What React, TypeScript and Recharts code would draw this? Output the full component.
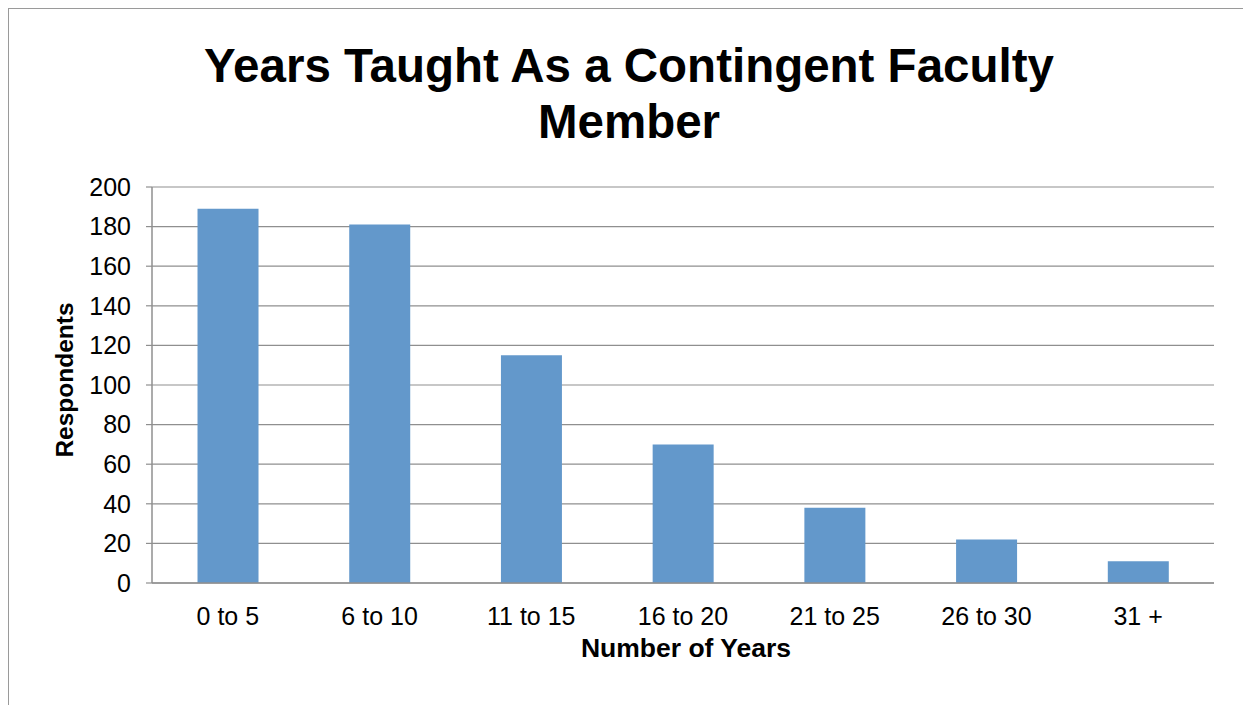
import React from "react";
import { BarChart, Bar, XAxis, YAxis, CartesianGrid, Label } from "recharts";

const categories = ["0 to 5", "6 to 10", "11 to 15", "16 to 20", "21 to 25", "26 to 30", "31 +"];
const respondents = [189, 181, 115, 70, 38, 22, 11];
const yTicks = [0, 20, 40, 60, 80, 100, 120, 140, 160, 180, 200];
const titleLines = ["Years Taught As a Contingent Faculty", "Member"];
const xTitle = "Number of Years";
const yTitle = "Respondents";

const data = categories.map((c, i) => ({ name: c, value: respondents[i] }));

const FONT = '"Liberation Sans", Arial, Helvetica, sans-serif';
const GRID = "#8f8f8f";

export default function App() {
  return (
    <div
      style={{
        position: "fixed",
        left: 8,
        top: 8,
        width: 1235,
        height: 697,
        overflow: "hidden",
        fontFamily: FONT,
        background: "#fff",
      }}
    >
      <div
        style={{
          position: "absolute",
          left: 0,
          top: 0,
          width: 1300,
          height: 760,
          borderTop: "1.5px solid #9a9a9a",
          borderLeft: "1.5px solid #9a9a9a",
          boxSizing: "border-box",
        }}
      />
      <div
        style={{
          position: "absolute",
          left: 0,
          top: 29.5,
          width: 1242,
          textAlign: "center",
          fontSize: 47.5,
          fontWeight: "bold",
          lineHeight: "56px",
          color: "#000",
        }}
      >
        {titleLines.map((l) => (
          <div key={l}>{l}</div>
        ))}
      </div>
      <BarChart
        width={1235}
        height={697}
        data={data}
        margin={{ top: 179, right: 29, bottom: 0, left: 0 }}
        barCategoryGap="30%"
        style={{ position: "absolute", left: 0, top: 0 }}
      >
        <CartesianGrid vertical={false} stroke={GRID} strokeWidth={1.2} />
        <XAxis
          dataKey="name"
          height={122}
          tickLine={false}
          tickSize={0}
          tickMargin={24}
          axisLine={{ stroke: GRID, strokeWidth: 1.5 }}
          tick={{ fontSize: 25, fill: "#000", fontFamily: FONT }}
          interval={0}
        >
          <Label
            content={({ viewBox }: any) => (
              <text
                x={viewBox.x + viewBox.width / 2 + 3}
                y={viewBox.y + 74}
                textAnchor="middle"
                fontSize={26.5}
                fontWeight="bold"
                fontFamily={FONT}
                fill="#000"
              >
                {xTitle}
              </text>
            )}
          />
        </XAxis>
        <YAxis
          width={144}
          domain={[0, 200]}
          ticks={yTicks}
          interval={0}
          tickSize={6}
          tickMargin={15}
          tickLine={{ stroke: GRID, strokeWidth: 1.2 }}
          axisLine={{ stroke: GRID, strokeWidth: 1.5 }}
          tick={{ fontSize: 25, fill: "#000", fontFamily: FONT }}
        >
          <Label
            content={({ viewBox }: any) => (
              <text
                x={56}
                y={viewBox.y + viewBox.height / 2 - 5}
                transform={`rotate(-90, 56, ${viewBox.y + viewBox.height / 2 - 5})`}
                textAnchor="middle"
                dominantBaseline="central"
                fontSize={24.5}
                fontWeight="bold"
                fontFamily={FONT}
                fill="#000"
              >
                {yTitle}
              </text>
            )}
          />
        </YAxis>
        <Bar dataKey="value" fill="#6398cb" isAnimationActive={false} />
      </BarChart>
    </div>
  );
}
